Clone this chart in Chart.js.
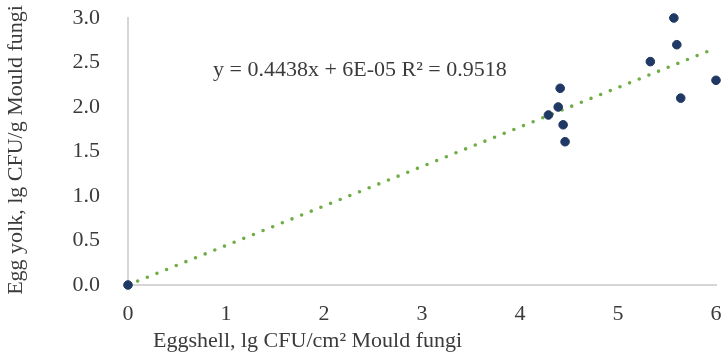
<!DOCTYPE html>
<html>
<head>
<meta charset="utf-8">
<script src="https://cdn.jsdelivr.net/npm/chart.js@4"></script>
<style>
  html, body { margin: 0; padding: 0; background: #fff; }
  #wrap { width: 725px; height: 357px; }
</style>
</head>
<body>
<div id="wrap"><canvas id="mould"></canvas></div>
<script>
// eggshell (x) vs egg yolk (y), lg CFU
const shellX = [0, 4.29, 4.39, 4.41, 4.44, 4.46, 5.33, 5.57, 5.60, 5.64, 6.0];
const yolkY  = [0, 1.91, 2.00, 2.21, 1.80, 1.61, 2.51, 3.00, 2.70, 2.10, 2.30];
const slope = 0.4438, intercept = 0.00006;
const trendX = [0, 6];
const xTicks = [0, 1, 2, 3, 4, 5, 6];
const yTicks = [0, 0.5, 1.0, 1.5, 2.0, 2.5, 3.0];

const points = shellX.map((x, i) => ({x: x, y: yolkY[i]}));
const trend = trendX.map(x => ({x: x, y: slope * x + intercept}));

const FONT = '"Liberation Serif", "DejaVu Serif", serif';
const TXT = '#3b3b3b';
const FS = 22;

const labels = {
  id: 'labels',
  afterDraw(chart) {
    const c = chart.ctx;
    c.save();
    c.fillStyle = TXT;
    c.font = FS + 'px ' + FONT;
    c.textBaseline = 'middle';
    c.textAlign = 'left';
    c.fillText('y = 0.4438x + 6E-05 R\u00B2 = 0.9518', 213, 70);
    c.fillText('Eggshell, lg CFU/cm\u00B2 Mould fungi', 153, 341);
    c.translate(16, 150);
    c.rotate(-Math.PI / 2);
    c.textAlign = 'center';
    c.fillText('Egg yolk, lg CFU/g Mould fungi', 0, 0);
    c.restore();
  }
};

new Chart(document.getElementById('mould'), {
  type: 'scatter',
  data: {
    datasets: [
      {
        label: 'Mould fungi',
        data: points,
        backgroundColor: '#1F3864',
        borderColor: '#1F3864',
        pointRadius: 4.3,
        pointHoverRadius: 4.3,
        clip: false,
        order: 1
      },
      {
        label: 'Linear trend',
        type: 'line',
        data: trend,
        borderColor: '#70AD47',
        borderWidth: 3.6,
        borderDash: [0, 10.4],
        borderCapStyle: 'round',
        pointRadius: 0,
        fill: false,
        clip: false,
        order: 2
      }
    ]
  },
  options: {
    responsive: true,
    maintainAspectRatio: false,
    animation: false,
    layout: { padding: { top: 18, right: 9, left: 0, bottom: 0 } },
    plugins: { legend: { display: false }, tooltip: { enabled: false } },
    scales: {
      x: {
        type: 'linear',
        min: 0, max: 6,
        afterFit(s) { s.height = 72; s.paddingLeft = 0; s.paddingRight = 0; },
        afterBuildTicks(s) { s.ticks = xTicks.map(v => ({value: v})); },
        grid: { display: false, drawTicks: false },
        border: { color: '#D6D6D6', width: 2 },
        ticks: { color: TXT, font: { family: FONT, size: FS }, padding: 16,
                 callback: v => String(v) }
      },
      y: {
        min: 0, max: 3,
        afterFit(s) { s.width = 128; s.paddingTop = 0; s.paddingBottom = 0; },
        afterBuildTicks(s) { s.ticks = yTicks.map(v => ({value: v})); },
        grid: { display: false, drawTicks: false },
        border: { color: '#D6D6D6', width: 2 },
        ticks: { color: TXT, font: { family: FONT, size: FS }, padding: 28,
                 callback: v => Number(v).toFixed(1) }
      }
    }
  },
  plugins: [labels]
});
</script>
</body>
</html>
